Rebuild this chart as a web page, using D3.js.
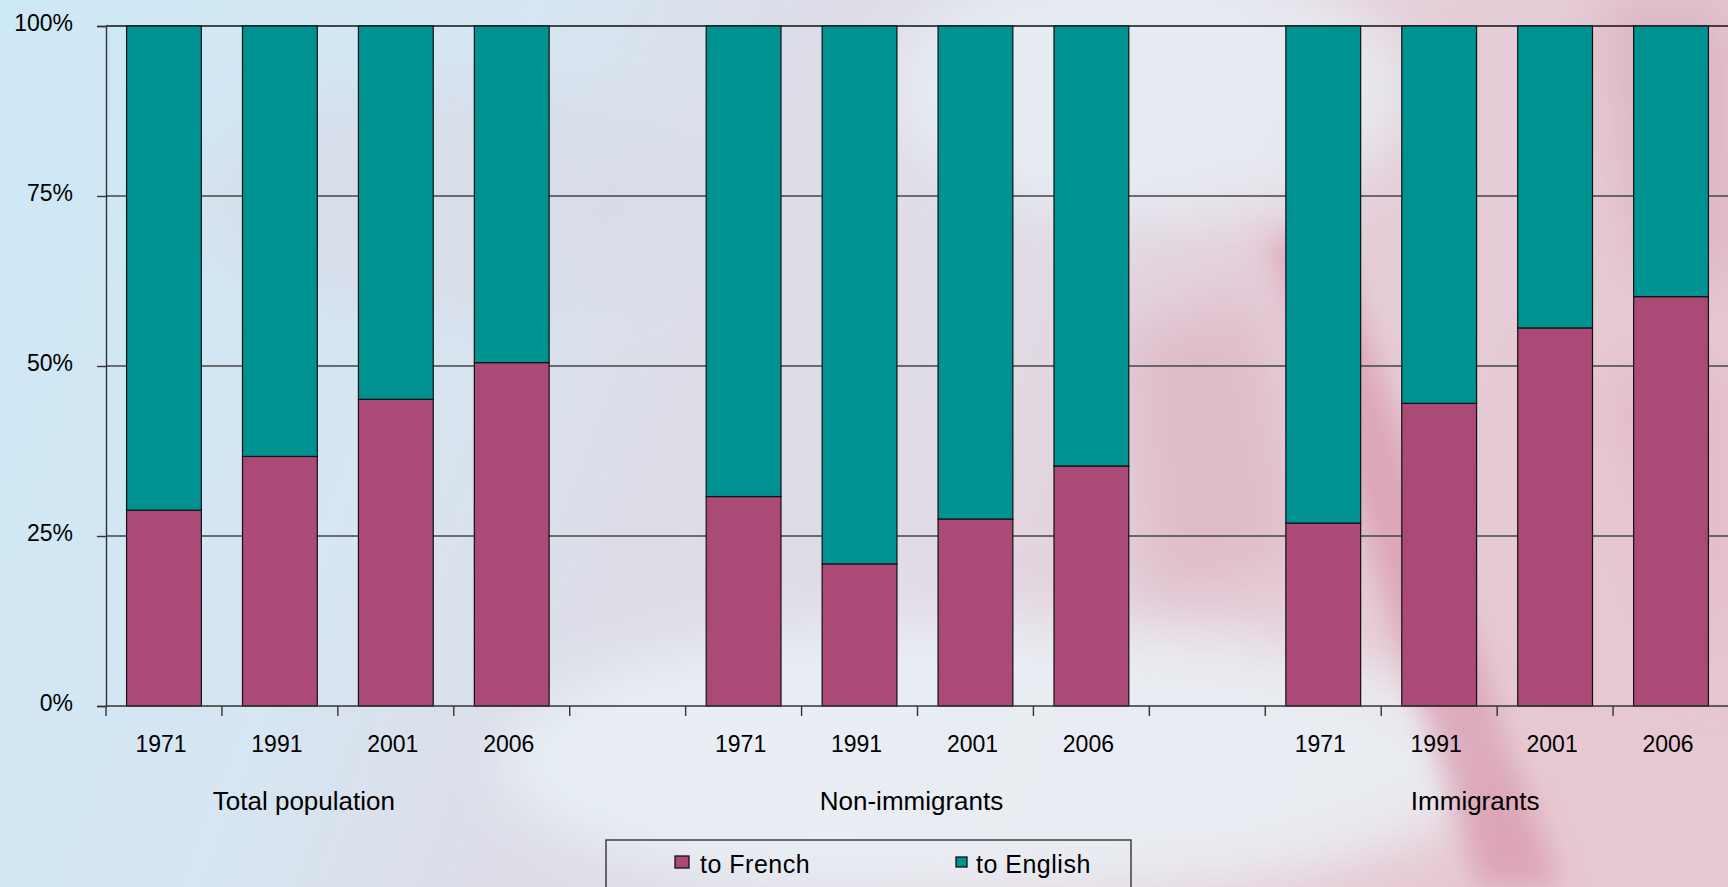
<!DOCTYPE html>
<html>
<head>
<meta charset="utf-8">
<script src="https://cdn.jsdelivr.net/npm/d3@7"></script>
<style>
html,body{margin:0;padding:0;overflow:hidden;}
svg{display:block;}
text{font-family:"Liberation Sans",Arial,sans-serif;fill:#000;}
</style>
</head>
<body>
<script>
// ---- data ----
const groups = ["Total population", "Non-immigrants", "Immigrants"];
const years = ["1971", "1991", "2001", "2006"];
const toFrench = [
  [28.8, 36.7, 45.1, 50.5],   // Total population
  [30.8, 20.9, 27.5, 35.3],   // Non-immigrants
  [26.9, 44.5, 55.6, 60.2]    // Immigrants
];
const yTicks = [0, 25, 50, 75, 100];
const seriesNames = ["to French", "to English"];
const seriesColors = ["#ab4a77", "#009191"];

// build slot list (gap slot between groups)
const slots = [];
groups.forEach((g, gi) => {
  years.forEach((y, yi) => {
    const f = toFrench[gi][yi];
    slots.push({key: g + "|" + y, group: g, year: y, french: f, english: 100 - f});
  });
  if (gi < groups.length - 1) slots.push({key: "gap" + gi, gap: true});
});

const W = 1728, H = 887;
const svg = d3.select("body").append("svg").attr("width", W).attr("height", H);

// ---- background ----
const defs = svg.append("defs");
const lg = defs.append("linearGradient").attr("id", "bg").attr("x1", "0").attr("x2", "1").attr("y1", "0").attr("y2", "0.2");
[["0", "#cde8f6"], ["0.3", "#d6e6f2"], ["0.45", "#dcdde8"], ["0.62", "#e0dbe5"], ["0.75", "#e4d0da"], ["1", "#e6c8d2"]]
  .forEach(s => lg.append("stop").attr("offset", s[0]).attr("stop-color", s[1]));
defs.append("filter").attr("id", "blur").attr("x", "-50%").attr("y", "-50%").attr("width", "200%").attr("height", "200%")
  .append("feGaussianBlur").attr("stdDeviation", 28);
defs.append("filter").attr("id", "blur2").attr("x", "-50%").attr("y", "-50%").attr("width", "200%").attr("height", "200%")
  .append("feGaussianBlur").attr("stdDeviation", 14);
svg.append("rect").attr("width", W).attr("height", H).attr("fill", "url(#bg)");
const bgG = svg.append("g");
// soft light areas and red flag shapes
bgG.append("ellipse").attr("cx", 1150).attr("cy", 90).attr("rx", 260).attr("ry", 130).attr("fill", "#e8f0f6").attr("opacity", 0.8).attr("filter", "url(#blur)");
bgG.append("ellipse").attr("cx", 1000).attr("cy", 760).attr("rx", 500).attr("ry", 140).attr("fill", "#eaf2f7").attr("opacity", 0.85).attr("filter", "url(#blur)");
bgG.append("ellipse").attr("cx", 450).attr("cy", 200).attr("rx", 250).attr("ry", 120).attr("fill", "#d8dbe7").attr("opacity", 0.7).attr("filter", "url(#blur)");
bgG.append("path").attr("d", "M1270,240 L1330,230 L1560,887 L1480,887 Z").attr("fill", "#d99aae").attr("opacity", 0.75).attr("filter", "url(#blur2)");
bgG.append("path").attr("d", "M1120,330 L1260,300 L1300,560 L1150,600 Z").attr("fill", "#ddb4c2").attr("opacity", 0.7).attr("filter", "url(#blur)");
bgG.append("path").attr("d", "M1600,0 L1728,0 L1728,300 L1640,260 Z").attr("fill", "#d9aebd").attr("opacity", 0.8).attr("filter", "url(#blur)");
bgG.append("path").attr("d", "M1600,380 L1728,360 L1728,700 Z").attr("fill", "#e0b0c0").attr("opacity", 0.6).attr("filter", "url(#blur)");

// ---- scales ----
const x0 = 106, x1 = 1729, yTop = 26, yBot = 706;
const pad = 0.55 / 1.55;
const x = d3.scaleBand().domain(slots.map(d => d.key)).range([x0, x1]).paddingInner(pad).paddingOuter(pad / 2);
const y = d3.scaleLinear().domain([0, 100]).range([yBot, yTop]);
const step = x.step();

// gridlines
svg.append("g").selectAll("line").data(yTicks.filter(t => t > 0)).join("line")
  .attr("x1", x0).attr("x2", W).attr("y1", d => y(d)).attr("y2", d => y(d))
  .attr("stroke", d => d === 100 ? "#111" : "#444").attr("stroke-width", 1.4);

// bars
const stack = d3.stack().keys(["french", "english"]);
const barData = slots.filter(d => !d.gap);
const series = stack(barData);
const barG = svg.append("g");
series.forEach((s, si) => {
  barG.append("g").selectAll("rect").data(s).join("rect")
    .attr("x", d => x(d.data.key))
    .attr("width", x.bandwidth())
    .attr("y", d => y(d[1]))
    .attr("height", d => y(d[0]) - y(d[1]))
    .attr("fill", seriesColors[si])
    .attr("stroke", "#111").attr("stroke-width", 1.2);
});

// y axis
const yAxis = d3.axisLeft(y).tickValues(yTicks).tickSize(9).tickPadding(0).tickFormat(d => d + "%");
const yg = svg.append("g").attr("transform", `translate(${x0},0)`).call(yAxis);
yg.select(".domain").attr("stroke", "#333").attr("stroke-width", 1.4);
yg.selectAll(".tick line").attr("stroke", "#333").attr("stroke-width", 1.4);
yg.selectAll(".tick text").attr("x", -33).attr("dy", "0.2em").attr("font-size", 23)
  .attr("font-family", "Liberation Sans, Arial, sans-serif").attr("fill", "#000");

// x axis line and boundary ticks
svg.append("line").attr("x1", x0).attr("x2", W).attr("y1", yBot).attr("y2", yBot).attr("stroke", "#333").attr("stroke-width", 1.5);
const boundaries = d3.range(slots.length + 1).map(i => x0 + i * step);
svg.append("g").selectAll("line").data(boundaries).join("line")
  .attr("x1", d => d).attr("x2", d => d).attr("y1", yBot).attr("y2", yBot + 10)
  .attr("stroke", "#333").attr("stroke-width", 1.4);

// year labels
svg.append("g").selectAll("text").data(barData).join("text")
  .attr("x", d => x(d.data ? d.data.key : d.key) + x.bandwidth() / 2 - 3)
  .attr("y", 752)
  .attr("text-anchor", "middle").attr("font-size", 23)
  .text(d => d.year);

// group labels
const groupShift = [-34, -6, -22];
svg.append("g").selectAll("text").data(groups).join("text")
  .attr("x", (g, i) => {
    const keys = years.map(yr => g + "|" + yr);
    return (x(keys[0]) + x(keys[3]) + x.bandwidth()) / 2 + groupShift[i];
  })
  .attr("y", 810).attr("text-anchor", "middle").attr("font-size", 26)
  .text(d => d);

// legend
const leg = svg.append("g");
leg.append("rect").attr("x", 606).attr("y", 840).attr("width", 525).attr("height", 60)
  .attr("fill", "none").attr("stroke", "#333").attr("stroke-width", 1.4);
const legItems = [
  {name: seriesNames[0], color: seriesColors[0], sx: 675, sw: 14, sh: 12, sy: 856, tx: 700},
  {name: seriesNames[1], color: seriesColors[1], sx: 956, sw: 11, sh: 10, sy: 857, tx: 976}
];
legItems.forEach(it => {
  leg.append("rect").attr("x", it.sx).attr("y", it.sy).attr("width", it.sw).attr("height", it.sh)
    .attr("fill", it.color).attr("stroke", "#111").attr("stroke-width", 1.3);
  leg.append("text").attr("x", it.tx).attr("y", 873).attr("font-size", 25).attr("letter-spacing", 0.5).text(it.name);
});
</script>
</body>
</html>
